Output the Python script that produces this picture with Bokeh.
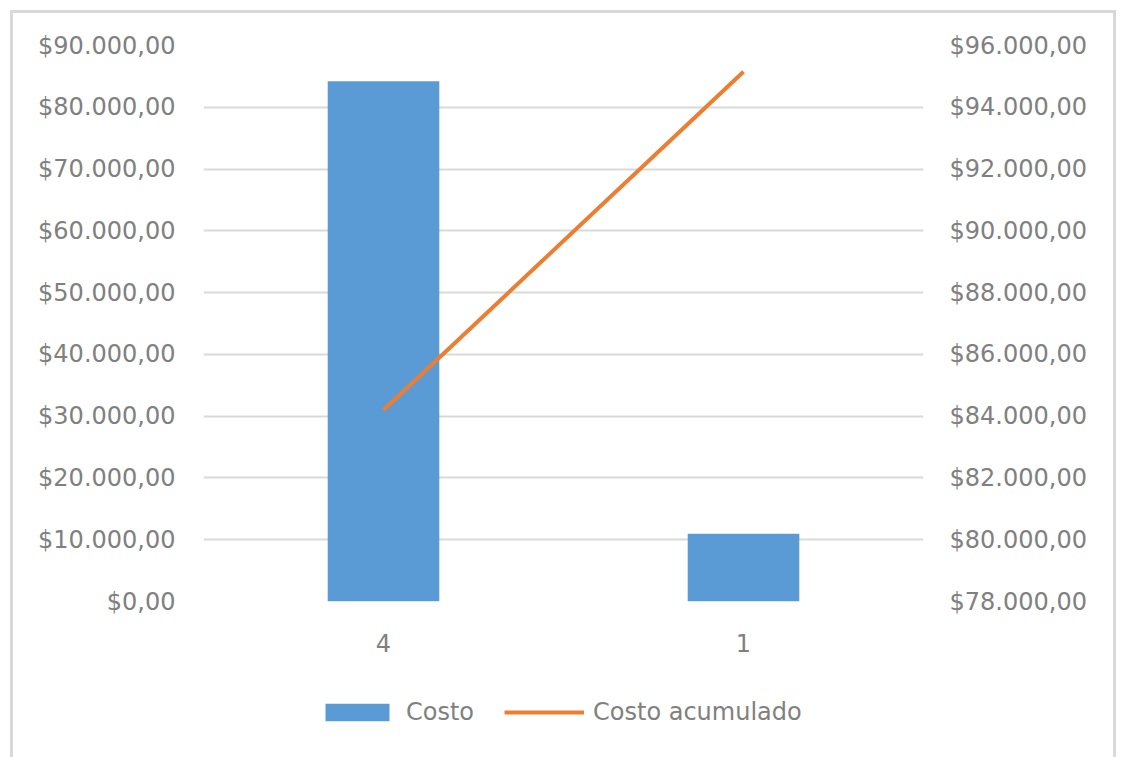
from bokeh.plotting import figure
from bokeh.layouts import column
from bokeh.models import (Range1d, LinearAxis, FixedTicker, CustomJSTickFormatter,
                          Legend, LegendItem, FactorRange)
from bokeh.embed import file_html
from bokeh.resources import INLINE

# ---- data ----
categories = ["4", "1"]
costo = [84200, 10950]
costo_acumulado = [84200, 95150]
left_ticks = [0, 10000, 20000, 30000, 40000, 50000, 60000, 70000, 80000, 90000]
right_ticks = [78000, 80000, 82000, 84000, 86000, 88000, 90000, 92000, 94000, 96000]

FONT = "DejaVu Sans"
TXT = "#808080"
GRID = "#d9d9d9"
BLUE = "#5b9bd5"
ORANGE = "#ed7d31"
FS = "24px"

p = figure(width=1100, height=662, x_range=FactorRange(factors=categories),
           y_range=Range1d(0, 90000), output_backend="svg", toolbar_location=None,
           min_border_left=190, min_border_right=190, min_border_top=32, min_border_bottom=74)
p.extra_y_ranges = {"right": Range1d(78000, 96000)}
p.outline_line_color = None
p.background_fill_color = "white"
p.border_fill_color = "white"

fmt_code = """
const s = Math.abs(tick).toFixed(2).split('.');
const i = s[0].replace(/\\B(?=(\\d{3})+(?!\\d))/g, '.');
return '$' + i + ',' + s[1];
"""

p.yaxis.ticker = FixedTicker(ticks=left_ticks)
p.yaxis.formatter = CustomJSTickFormatter(code=fmt_code)
right_axis = LinearAxis(y_range_name="right", ticker=FixedTicker(ticks=right_ticks),
                        formatter=CustomJSTickFormatter(code=fmt_code))
p.add_layout(right_axis, "right")

for ax in [p.yaxis[0], right_axis, p.xaxis[0]]:
    ax.axis_line_color = None
    ax.major_tick_line_color = None
    ax.minor_tick_line_color = None
    ax.major_tick_out = 0
    ax.major_tick_in = 0
    ax.minor_tick_out = 0
    ax.major_label_text_font = FONT
    ax.major_label_text_font_size = FS
    ax.major_label_text_color = TXT
p.yaxis[0].major_label_standoff = 28
right_axis.major_label_standoff = 26
p.xaxis.major_label_standoff = 32

p.xgrid.grid_line_color = None
p.ygrid.grid_line_color = GRID
p.ygrid.grid_line_width = 2

p.vbar(x=categories, top=costo, width=0.31, fill_color=BLUE, line_color=None)
p.line(x=categories, y=costo_acumulado, y_range_name="right",
       line_color=ORANGE, line_width=4)

# ---- legend strip (separate figure, glyphs kept far out of view) ----
lg = figure(width=1100, height=82, x_range=FactorRange(factors=categories),
            y_range=Range1d(1e7, 2e7), output_backend="svg", toolbar_location=None,
            x_axis_location=None, y_axis_location=None,
            min_border_left=190, min_border_right=190, min_border_top=0, min_border_bottom=0)
lg.outline_line_color = None
lg.xgrid.grid_line_color = None
lg.ygrid.grid_line_color = None
lg.border_fill_color = "white"
b2 = lg.vbar(x=categories, top=costo, width=0.31, fill_color=BLUE, line_color=None)
l2 = lg.line(x=categories, y=costo_acumulado, line_color=ORANGE, line_width=4)

legend = Legend(items=[LegendItem(label="Costo", renderers=[b2]),
                       LegendItem(label="Costo acumulado", renderers=[l2])],
                orientation="horizontal", location=(114, 31))
legend.label_text_font = FONT
legend.label_text_font_size = FS
legend.label_text_color = TXT
legend.glyph_width = 80
legend.glyph_height = 22
legend.spacing = 30
legend.label_standoff = 9
legend.border_line_color = None
legend.background_fill_alpha = 0
legend.margin = 0
legend.padding = 10
lg.add_layout(legend, "center")

layout = column(p, lg, spacing=0)
layout.styles = {"border": "3px solid #d9d9d9", "margin": "10px", "background-color": "white"}

open("out.html", "w").write(file_html(layout, INLINE))
